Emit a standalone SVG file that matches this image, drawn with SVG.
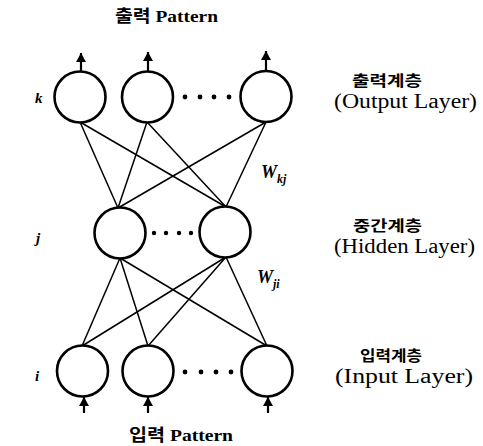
<svg xmlns="http://www.w3.org/2000/svg" width="483" height="446" viewBox="0 0 483 446">
<style>
.node{fill:#fff;stroke:#000;stroke-width:2.6}
.dot{fill:#000}
.edge{stroke:#000;stroke-width:1.5;fill:none}
.arr{stroke:#000;stroke-width:2.2;fill:none;marker-end:url(#ah)}
.kr{font-family:"Noto Sans CJK KR",sans-serif;font-weight:bold;font-size:15px;fill:#000}
.en{font-family:"Liberation Serif","Noto Sans CJK KR",serif;font-size:20px;fill:#000}
.pt{font-family:"Liberation Serif","Noto Sans CJK KR",serif;font-weight:bold;font-size:17px;fill:#000}
.var{font-family:"Liberation Serif",serif;font-style:italic;font-weight:bold;font-size:15px;fill:#000}
.w{font-family:"Liberation Serif",serif;font-style:italic;font-weight:bold;font-size:18px;fill:#000}
.sub{font-size:12px}
</style>
<defs>
<marker id="ah" markerUnits="userSpaceOnUse" markerWidth="11" markerHeight="11" refX="9" refY="5" orient="auto">
<path d="M0,0 L9,5 L0,10 z" fill="#000"/>
</marker>
</defs>
<rect width="483" height="446" fill="#fff"/>
<g id="connectors">
<line class="edge" x1="80" y1="122" x2="118" y2="208"/>
<line class="edge" x1="80" y1="122" x2="226" y2="207"/>
<line class="edge" x1="147" y1="122" x2="118" y2="208"/>
<line class="edge" x1="147" y1="122" x2="226" y2="207"/>
<line class="edge" x1="266" y1="122" x2="118" y2="208"/>
<line class="edge" x1="266" y1="122" x2="226" y2="207"/>
<line class="edge" x1="120" y1="258" x2="82" y2="346"/>
<line class="edge" x1="120" y1="258" x2="148" y2="346"/>
<line class="edge" x1="120" y1="258" x2="267" y2="346"/>
<line class="edge" x1="226" y1="257" x2="82" y2="346"/>
<line class="edge" x1="226" y1="257" x2="148" y2="346"/>
<line class="edge" x1="226" y1="257" x2="267" y2="346"/>
<line class="arr" x1="81" y1="72" x2="81" y2="53"/>
<line class="arr" x1="148" y1="72" x2="148" y2="52"/>
<line class="arr" x1="266" y1="71" x2="266" y2="51"/>
<line class="arr" x1="84" y1="413" x2="84" y2="397"/>
<line class="arr" x1="148" y1="413" x2="148" y2="397"/>
<line class="arr" x1="268" y1="413" x2="268" y2="397"/>
</g>
<g id="out1"><circle class="node" cx="80" cy="97" r="25.5"/></g>
<g id="out2"><circle class="node" cx="147.5" cy="97" r="25.5"/></g>
<g id="out3"><circle class="node" cx="266" cy="96.5" r="25.5"/></g>
<g id="outdots"><circle class="dot" cx="185" cy="97" r="2.4"/><circle class="dot" cx="200" cy="97" r="2.4"/><circle class="dot" cx="214" cy="97" r="2.4"/><circle class="dot" cx="229" cy="97" r="2.4"/></g>
<g id="hid1"><circle class="node" cx="120" cy="233" r="25.5"/></g>
<g id="hid2"><circle class="node" cx="225" cy="232" r="25.5"/></g>
<g id="hiddots"><circle class="dot" cx="154" cy="233" r="2.2"/><circle class="dot" cx="166" cy="233" r="2.2"/><circle class="dot" cx="179" cy="233" r="2.2"/><circle class="dot" cx="191" cy="233" r="2.2"/></g>
<g id="in1"><circle class="node" cx="82.5" cy="371" r="25.5"/></g>
<g id="in2"><circle class="node" cx="148" cy="371" r="25.5"/></g>
<g id="in3"><circle class="node" cx="267" cy="371" r="25.5"/></g>
<g id="indots"><circle class="dot" cx="185" cy="372" r="2.4"/><circle class="dot" cx="201" cy="372" r="2.4"/><circle class="dot" cx="216" cy="372" r="2.4"/><circle class="dot" cx="231" cy="372" r="2.4"/></g>
<g id="labels">
<text class="pt" x="115" y="22" textLength="103" lengthAdjust="spacingAndGlyphs">출력 Pattern</text>
<text class="pt" x="129" y="441" textLength="104" lengthAdjust="spacingAndGlyphs">입력 Pattern</text>
<text class="kr" x="352" y="86" textLength="70" lengthAdjust="spacingAndGlyphs">출력계층</text>
<text class="en" x="334" y="108" textLength="143" lengthAdjust="spacingAndGlyphs">(Output Layer)</text>
<text class="kr" x="353" y="231" textLength="69" lengthAdjust="spacingAndGlyphs">중간계층</text>
<text class="en" x="334" y="253" textLength="141" lengthAdjust="spacingAndGlyphs">(Hidden Layer)</text>
<text class="kr" x="360" y="361" textLength="62" lengthAdjust="spacingAndGlyphs">입력계층</text>
<text class="en" x="335" y="383" textLength="138" lengthAdjust="spacingAndGlyphs">(Input Layer)</text>
<text class="var" x="35" y="103">k</text>
<text class="var" x="36" y="243">j</text>
<text class="var" x="35" y="381">i</text>
<text class="w" x="261" y="178">W<tspan class="sub" dy="5">kj</tspan></text>
<text class="w" x="257" y="283">W<tspan class="sub" dy="5">ji</tspan></text>
</g>
</svg>
